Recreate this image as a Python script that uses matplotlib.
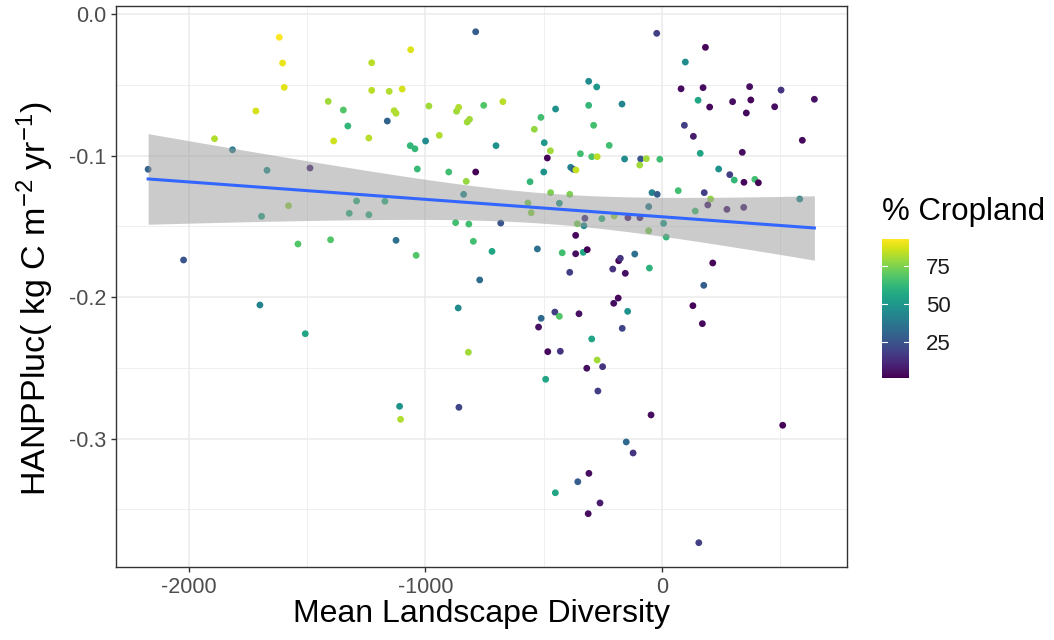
import numpy as np
import matplotlib
matplotlib.use("Agg")
import matplotlib.pyplot as plt
from matplotlib.ticker import MultipleLocator

plt.rcParams['font.family'] = ['Liberation Sans', 'DejaVu Sans']
plt.rcParams['mathtext.fontset'] = 'custom'
plt.rcParams['mathtext.rm'] = 'Liberation Sans'
plt.rcParams['mathtext.it'] = 'Liberation Sans'

# mean landscape diversity, HANPPluc, % cropland
diversity = [
    -1618, -1604, -1597, -1717, -1411, -1347, -1328, -1388, -1892, -1816, -2173, -1670, -1488,
    -787, -1062, -1227, -1227, -1153, -1098, -1132, -1124, -1161, -1239, -1064, -1044, -999,
    -985, -941, -868, -859, -823, -813, -753, -672, -701, -1034, -901, -827, -787, -838,
    -539, -511, -449, -497, -471, -484, -499, -557, -385, -374, -363, -344, -296, -273,
    -309, -275, -309, -288, -470, -389,
    -21, 185, 100, 82, 175, 372, 505, 646, 154, 203, 300, 377, 358, 478, -168, 96, 134, 595,
    -222, 163, 341, -157, -89, -65, -93, -8, 241, 288, 307, 348, 394, 409, -41, -19, 70, 180,
    207, 584,
    -1579, -1693, -1291, -1322, -1539, -1401, -2023, -1700, -1508,
    -1171, -1239, -872, -816, -681, -1124, -1039, -797, -718, -770, -566, -552, -433, -357,
    -325, -329, -364, -526, -421, -364, -332, -315, -389, -861, -818, -510, -452, -433, -350,
    -521, -482, -429, -296, -317, -273, -491,
    -55, 195, 276, 347, 142, -253, -201, -143, -92, -55, 8, 19, -182, -175, -114, -207, -154,
    -52, 216, 178, -184, -203, -144, -167, 132, 172, -250,
    -1109, -1105, -858, -270, -45, 512, -150, -121, -308, -355, -450, -261, -311, 157,
]
hanpp = [
    -0.0163, -0.0345, -0.0517, -0.0684, -0.0616, -0.0677, -0.0790, -0.0896, -0.0880, -0.0958,
    -0.1096, -0.1103, -0.1087,
    -0.0124, -0.0251, -0.0343, -0.0538, -0.0545, -0.0529, -0.0682, -0.0700, -0.0755, -0.0875,
    -0.0929, -0.0951, -0.0896, -0.0649, -0.0856, -0.0686, -0.0658, -0.0762, -0.0743, -0.0644,
    -0.0618, -0.0929, -0.1094, -0.1115, -0.1181, -0.1115, -0.1273,
    -0.0813, -0.0729, -0.0670, -0.0908, -0.0965, -0.1016, -0.1115, -0.1184, -0.1082, -0.1096,
    -0.1101, -0.0986, -0.1007, -0.1007, -0.0474, -0.0514, -0.0644, -0.0785, -0.1261, -0.1273,
    -0.0135, -0.0234, -0.0338, -0.0527, -0.0519, -0.0512, -0.0536, -0.0601, -0.0608, -0.0656,
    -0.0618, -0.0606, -0.0698, -0.0654, -0.0635, -0.0785, -0.0863, -0.0891, -0.0927, -0.0983,
    -0.0976, -0.1023, -0.1023, -0.1021, -0.1066, -0.1025, -0.1094, -0.1134, -0.1172, -0.1188,
    -0.1167, -0.1191, -0.1261, -0.1273, -0.1247, -0.1261, -0.1306, -0.1306,
    -0.1353, -0.1428, -0.1320, -0.1407, -0.1624, -0.1594, -0.1737, -0.2055, -0.2258,
    -0.1322, -0.1417, -0.1473, -0.1483, -0.1476, -0.1598, -0.1704, -0.1605, -0.1676, -0.1878,
    -0.1334, -0.1403, -0.1336, -0.1481, -0.1442, -0.1495, -0.1563, -0.1659, -0.1686, -0.1693,
    -0.1683, -0.1664, -0.1824, -0.2076, -0.2389, -0.2149, -0.2105, -0.2135, -0.2117, -0.2211,
    -0.2385, -0.2382, -0.2295, -0.2502, -0.2444, -0.2580,
    -0.1360, -0.1348, -0.1379, -0.1365, -0.1391, -0.1445, -0.1426, -0.1438, -0.1438, -0.1530,
    -0.1478, -0.1575, -0.1742, -0.1725, -0.1695, -0.1801, -0.1831, -0.1794, -0.1758, -0.1916,
    -0.2006, -0.2043, -0.2100, -0.2220, -0.2060, -0.2187, -0.2491,
    -0.2771, -0.2863, -0.2778, -0.2663, -0.2832, -0.2905, -0.3023, -0.3101, -0.3245, -0.3304,
    -0.3382, -0.3454, -0.3530, -0.3735,
]
cropland = [
    93, 90, 89, 87, 80, 68, 62, 86, 82, 40, 30, 48, 10,
    28, 88, 83, 83, 82, 87, 82, 82, 30, 83, 62, 62, 45, 80, 82, 80, 82, 80, 80, 68, 83, 48,
    63, 65, 78, 2, 45,
    78, 65, 48, 50, 80, 2, 48, 62, 42, 30, 85, 65, 67, 84, 45, 50, 62, 65, 75, 75,
    18, 2, 45, 4, 4, 4, 15, 5, 55, 3, 4, 3, 3, 4, 43, 18, 8, 3, 65, 55, 4, 45, 25, 80, 80,
    65, 48, 18, 62, 3, 65, 1, 42, 28, 65, 18, 78, 45,
    78, 55, 60, 60, 68, 68, 25, 42, 55,
    60, 60, 65, 65, 25, 35, 68, 65, 55, 33, 75, 77, 52, 75, 15, 45, 3, 35, 65, 4, 55, 1, 18,
    45, 80, 32, 18, 68, 5, 5, 3, 15, 55, 4, 80, 55,
    40, 10, 8, 10, 65, 60, 78, 8, 10, 75, 52, 62, 2, 15, 35, 15, 4, 60, 2, 28, 3, 4, 48, 20,
    2, 3, 15,
    48, 82, 20, 18, 4, 2, 32, 15, 4, 28, 55, 8, 4, 18,
]

x = np.array(diversity, dtype=float)
y = np.array(hanpp, dtype=float)

fig = plt.figure(figsize=(10.54, 6.4), dpi=100)
ax = fig.add_axes([0.1098, 0.114, 0.6938, 0.8766])

sc = ax.scatter(x, y, c=cropland, cmap='viridis', s=24, linewidths=0, zorder=3)

# linear fit with 95% confidence band
b, a = np.polyfit(x, y, 1)
n = len(x)
resid = y - (a + b * x)
s = np.sqrt(np.sum(resid ** 2) / (n - 2))
xs = np.linspace(x.min(), x.max(), 100)
se = s * np.sqrt(1 / n + (xs - x.mean()) ** 2 / np.sum((x - x.mean()) ** 2))
yhat = a + b * xs
ax.fill_between(xs, yhat - 1.973 * se, yhat + 1.973 * se, color='#999999', alpha=0.5,
                linewidth=0, zorder=4)
ax.plot(xs, yhat, color='#3366FF', linewidth=2.2, zorder=5)

ax.set_xlim(-2310, 784)
ax.set_ylim(-0.3907, 0.0058)
ax.set_xticks([-2000, -1000, 0])
ax.set_xticklabels(['-2000', '-1000', '0'])
ax.set_yticks([0.0, -0.1, -0.2, -0.3])
ax.set_yticklabels(['0.0', '-0.1', '-0.2', '-0.3'])
ax.xaxis.set_minor_locator(MultipleLocator(500))
ax.yaxis.set_minor_locator(MultipleLocator(0.05))
ax.grid(which='major', color='#EBEBEB', linewidth=1.1, zorder=0)
ax.grid(which='minor', color='#EBEBEB', linewidth=0.55, zorder=0)
ax.set_axisbelow(True)
ax.tick_params(which='major', length=3.5, width=1, color='#333333', labelsize=15.5,
               labelcolor='#4D4D4D')
ax.tick_params(which='minor', length=0)
for sp in ax.spines.values():
    sp.set_color('#333333')
    sp.set_linewidth(1)

ax.set_xlabel('Mean Landscape Diversity', fontsize=23, labelpad=1)
ax.set_ylabel(r'HANPPluc( kg C m$^{-2}$ yr$^{-1}$)', fontsize=24.5)
ax.yaxis.set_label_coords(-0.082, 0.478)

cax = fig.add_axes([881.7 / 1054, 1 - 378 / 640, 27.6 / 1054, 139 / 640])
cb = fig.colorbar(sc, cax=cax, ticks=[25, 50, 75])
cb.outline.set_visible(False)
cb.ax.tick_params(length=0, labelsize=16, labelcolor='#1A1A1A', pad=12)
for t in [25, 50, 75]:
    cax.plot([0, 0.2], [t, t], color='white', linewidth=0.8, transform=cax.get_yaxis_transform())
    cax.plot([0.8, 1], [t, t], color='white', linewidth=0.8, transform=cax.get_yaxis_transform())
fig.text(881.7 / 1054, 1 - 212 / 640, '% Cropland', fontsize=22.5, va='center', ha='left')

fig.savefig('out.png', dpi=100)
